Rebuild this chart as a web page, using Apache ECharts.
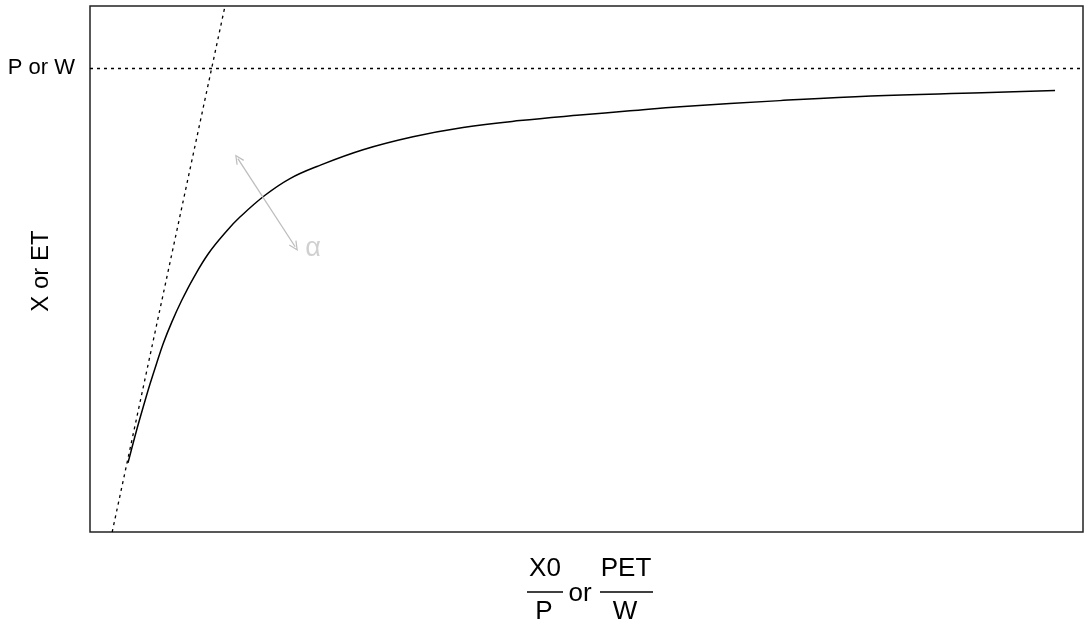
<!DOCTYPE html>
<html>
<head>
<meta charset="utf-8">
<script src="https://cdn.jsdelivr.net/npm/echarts@6/dist/echarts.min.js"></script>
<style>html,body{margin:0;padding:0;background:#fff;}#c{width:1084px;height:630px;}</style>
</head>
<body>
<div id="c"></div>
<script>
// Budyko-type curve
const curveX = [0.159, 0.246, 0.330, 0.380, 0.447, 0.514, 0.598, 0.698, 0.815, 0.966, 1.151, 1.284, 1.536, 1.787, 2.058, 2.521, 3.023, 3.526, 4.098, 4.701, 5.204, 5.706, 6.711, 7.626, 8.742, 9.476];
const curveY = [0.149, 0.220, 0.283, 0.319, 0.364, 0.407, 0.452, 0.499, 0.547, 0.600, 0.649, 0.679, 0.726, 0.762, 0.788, 0.824, 0.852, 0.872, 0.887, 0.899, 0.908, 0.917, 0.930, 0.940, 0.947, 0.952];
// 1:1 line (energy limit)
const limitX = [0, 1.2];
const limitY = [0, 1.2];
// water limit level
const waterLimit = 1;
const yTickValues = [1];
const yTickLabels = ['P or W'];
// alpha arrow annotation (data units)
const arrowStart = [1.263, 0.805];
const arrowEnd = [1.839, 0.615];
const alphaPos = [2.02, 0.612];
const alphaText = 'α';

const FONT = 'Liberation Sans, Arial, Helvetica, sans-serif';
const chevron = 'path://M5,0 L10,9 L8.8,9.6 L5,2.6 L1.2,9.6 L0,9 Z';

const chart = echarts.init(document.getElementById('c'), null, {renderer: 'canvas'});
const option = {
  animation: false,
  backgroundColor: '#fff',
  grid: {left: 90, top: 6, right: 1, bottom: 98, show: true, borderColor: '#222', borderWidth: 1.5, backgroundColor: 'transparent'},
  xAxis: {type: 'value', min: -0.223, max: 9.757, axisLine: {show: false}, axisTick: {show: false}, axisLabel: {show: false}, splitLine: {show: false}},
  yAxis: {type: 'value', min: 0, max: 1.134, interval: 1,
    axisLine: {show: false}, axisTick: {show: false}, splitLine: {show: false},
    axisLabel: {show: true, margin: 15, color: '#000', fontSize: 22, fontFamily: FONT,
      formatter: function (v) { const i = yTickValues.indexOf(v); return i >= 0 ? yTickLabels[i] : ''; }}
  },
  series: [
    {type: 'line', data: limitX.map((x, i) => [x, limitY[i]]), symbol: 'none', clip: true,
      lineStyle: {color: '#000', width: 1.3, type: [3, 4]},
      markLine: {silent: true, symbol: 'none', label: {show: false},
        lineStyle: {color: '#000', width: 1.3, type: [3, 4]},
        data: [{yAxis: waterLimit}]}
    },
    {type: 'line', data: curveX.map((x, i) => [x, curveY[i]]), symbol: 'none', smooth: 0.4, clip: true,
      lineStyle: {color: '#000', width: 1.5},
      markLine: {silent: true, symbol: [chevron, chevron], symbolSize: [9, 10], label: {show: false},
        lineStyle: {color: '#bdbdbd', width: 1.3, type: 'solid'},
        itemStyle: {color: '#bdbdbd'},
        data: [[{coord: arrowStart}, {coord: arrowEnd}]]}
    },
    {type: 'scatter', data: [alphaPos], symbolSize: 0.01, silent: true,
      label: {show: true, position: 'inside', formatter: alphaText, color: '#c4c4c4', fontSize: 27, fontFamily: FONT}}
  ],
  graphic: [
    {type: 'text', x: 41, y: 271, rotation: Math.PI / 2,
      style: {text: 'X or ET', x: 0, y: 0, fill: '#000', font: '24px ' + FONT, textAlign: 'center', textVerticalAlign: 'middle', verticalAlign: 'middle'}},
    {type: 'text', x: 545, y: 569, style: {text: 'X0', fill: '#000', font: '26px ' + FONT, textAlign: 'center', textVerticalAlign: 'middle', verticalAlign: 'middle'}},
    {type: 'line', shape: {x1: 527, y1: 592, x2: 563, y2: 592}, style: {stroke: '#000', lineWidth: 1.5}},
    {type: 'text', x: 544, y: 612, style: {text: 'P', fill: '#000', font: '26px ' + FONT, textAlign: 'center', textVerticalAlign: 'middle', verticalAlign: 'middle'}},
    {type: 'text', x: 580, y: 594, style: {text: 'or', fill: '#000', font: '26px ' + FONT, textAlign: 'center', textVerticalAlign: 'middle', verticalAlign: 'middle'}},
    {type: 'text', x: 626, y: 569, style: {text: 'PET', fill: '#000', font: '26px ' + FONT, textAlign: 'center', textVerticalAlign: 'middle', verticalAlign: 'middle'}},
    {type: 'line', shape: {x1: 600, y1: 592, x2: 653, y2: 592}, style: {stroke: '#000', lineWidth: 1.5}},
    {type: 'text', x: 625, y: 612, style: {text: 'W', fill: '#000', font: '26px ' + FONT, textAlign: 'center', textVerticalAlign: 'middle', verticalAlign: 'middle'}}
  ]
};
chart.setOption(option);
</script>
</body>
</html>
